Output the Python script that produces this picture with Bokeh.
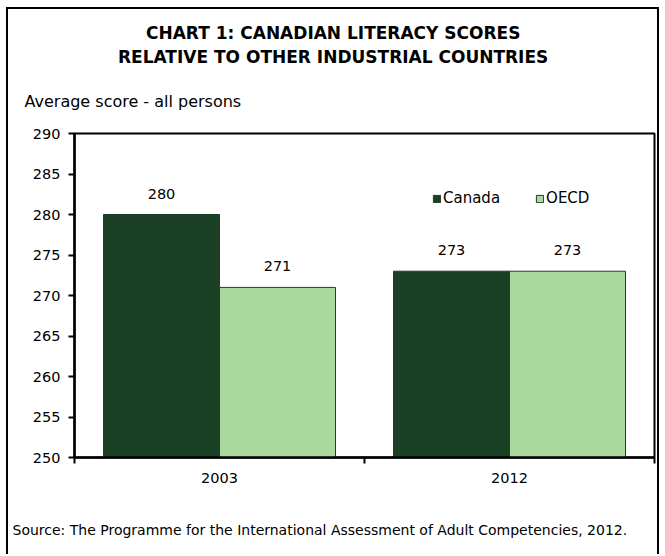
import numpy as np
from bokeh.plotting import figure
from bokeh.models import (Range1d, FixedTicker, ColumnDataSource, LabelSet, Title,
                          Legend, LegendItem)
from bokeh.core.properties import value
from bokeh.embed import file_html
from bokeh.resources import INLINE

# ---- data ----
years = ["2003", "2012"]
canada = [280, 273]
oecd = [271, 273]
y_ticks = [250, 255, 260, 265, 270, 275, 280, 285, 290]
title_lines = ["CHART 1: CANADIAN LITERACY SCORES",
               "RELATIVE TO OTHER INDUSTRIAL COUNTRIES"]
y_label = "Average score - all persons"
source_note = "Source: The Programme for the International Assessment of Adult Competencies, 2012."
series_names = ["Canada", "OECD"]

# ---- style ----
DARK = "#1B4026"
LIGHT = "#ACD99D"
FONT = "DejaVu Sans"

W, H = 653, 547
ML, MR, MT, MB = 66, 7, 124, 99

n = len(years)
centers = np.arange(n) + 0.5
bar_w = 0.4
src = ColumnDataSource(dict(
    x_can=centers - bar_w / 2,
    x_oecd=centers + bar_w / 2,
    canada=canada,
    oecd=oecd,
    lab_can=[str(v) for v in canada],
    lab_oecd=[str(v) for v in oecd],
))

p = figure(width=W, height=H, output_backend="svg", toolbar_location=None,
           x_range=Range1d(0, n), y_range=Range1d(y_ticks[0], y_ticks[-1]),
           min_border_left=ML, min_border_right=MR,
           min_border_top=MT, min_border_bottom=MB)
p.styles = {"border": "2px solid black", "border-bottom": "none",
            "margin-left": "6px", "margin-top": "7px"}
p.xgrid.visible = False
p.ygrid.visible = False
p.outline_line_color = "black"
p.outline_line_width = 2
p.background_fill_color = "white"
p.border_fill_color = "white"

r1 = p.vbar(x="x_can", top="canada", bottom=y_ticks[0], width=bar_w,
            fill_color=DARK, line_color=DARK, line_width=1, source=src)
r2 = p.vbar(x="x_oecd", top="oecd", bottom=y_ticks[0], width=bar_w,
            fill_color=LIGHT, line_color=DARK, line_width=1, source=src)

for xcol, ycol, tcol in [("x_can", "canada", "lab_can"), ("x_oecd", "oecd", "lab_oecd")]:
    p.add_layout(LabelSet(x=xcol, y=ycol, text=tcol, source=src, y_offset=16,
                          text_align="center", text_baseline="alphabetic",
                          text_font=value(FONT), text_font_size=value("14.5px"),
                          text_color="black"))

# y axis
yax = p.yaxis[0]
yax.ticker = FixedTicker(ticks=y_ticks)
yax.major_tick_out = 6
yax.major_tick_in = 0
yax.minor_tick_line_color = None
yax.major_tick_line_width = 2
yax.axis_line_width = 2.5
yax.major_label_standoff = 8
yax.major_label_text_font = FONT
yax.major_label_text_font_size = "14.5px"
yax.major_label_text_color = "black"

# x axis
xax = p.xaxis[0]
xax.ticker = FixedTicker(ticks=list(centers), minor_ticks=list(range(n + 1)))
xax.major_label_overrides = {float(c): y for c, y in zip(centers, years)}
xax.major_tick_line_color = None
xax.major_tick_out = 0
xax.major_tick_in = 0
xax.minor_tick_out = 6
xax.minor_tick_in = 0
xax.minor_tick_line_width = 2
xax.minor_tick_line_color = "black"
xax.axis_line_width = 2.5
xax.major_label_standoff = 9
xax.major_label_text_font = FONT
xax.major_label_text_font_size = "14.5px"
xax.major_label_text_color = "black"

legend = Legend(items=[LegendItem(label=series_names[0], renderers=[r1]),
                       LegendItem(label=series_names[1], renderers=[r2])],
                orientation="horizontal", location=(358, 250),
                glyph_width=9, glyph_height=9, label_standoff=2, spacing=35,
                padding=0, margin=0, border_line_color=None,
                background_fill_alpha=0, label_height=9,
                label_text_font=FONT, label_text_font_size="15px",
                label_text_color="black")
p.add_layout(legend)

# titles (first added = nearest to the frame)
p.add_layout(Title(text=y_label, align="left", offset=-50, standoff=46,
                   text_font=FONT, text_font_size="16px", text_font_style="normal",
                   text_color="black"), "above")
p.add_layout(Title(text=title_lines[1], align="left", offset=43.5, standoff=0,
                   text_font=FONT, text_font_size="17px", text_font_style="bold",
                   text_color="black"), "above")
p.add_layout(Title(text=title_lines[0], align="left", offset=71.5, standoff=4,
                   text_font=FONT, text_font_size="17px", text_font_style="bold",
                   text_color="black"), "above")
# spacer between the axis labels and the source note
p.add_layout(Title(text=" ", standoff=16, text_font=FONT, text_font_size="14px"), "below")
p.add_layout(Title(text=source_note, align="left", offset=-62, standoff=0,
                   text_font=FONT, text_font_size="14px", text_font_style="normal",
                   text_color="black"), "below")

open("out.html", "w").write(file_html(p, INLINE))
